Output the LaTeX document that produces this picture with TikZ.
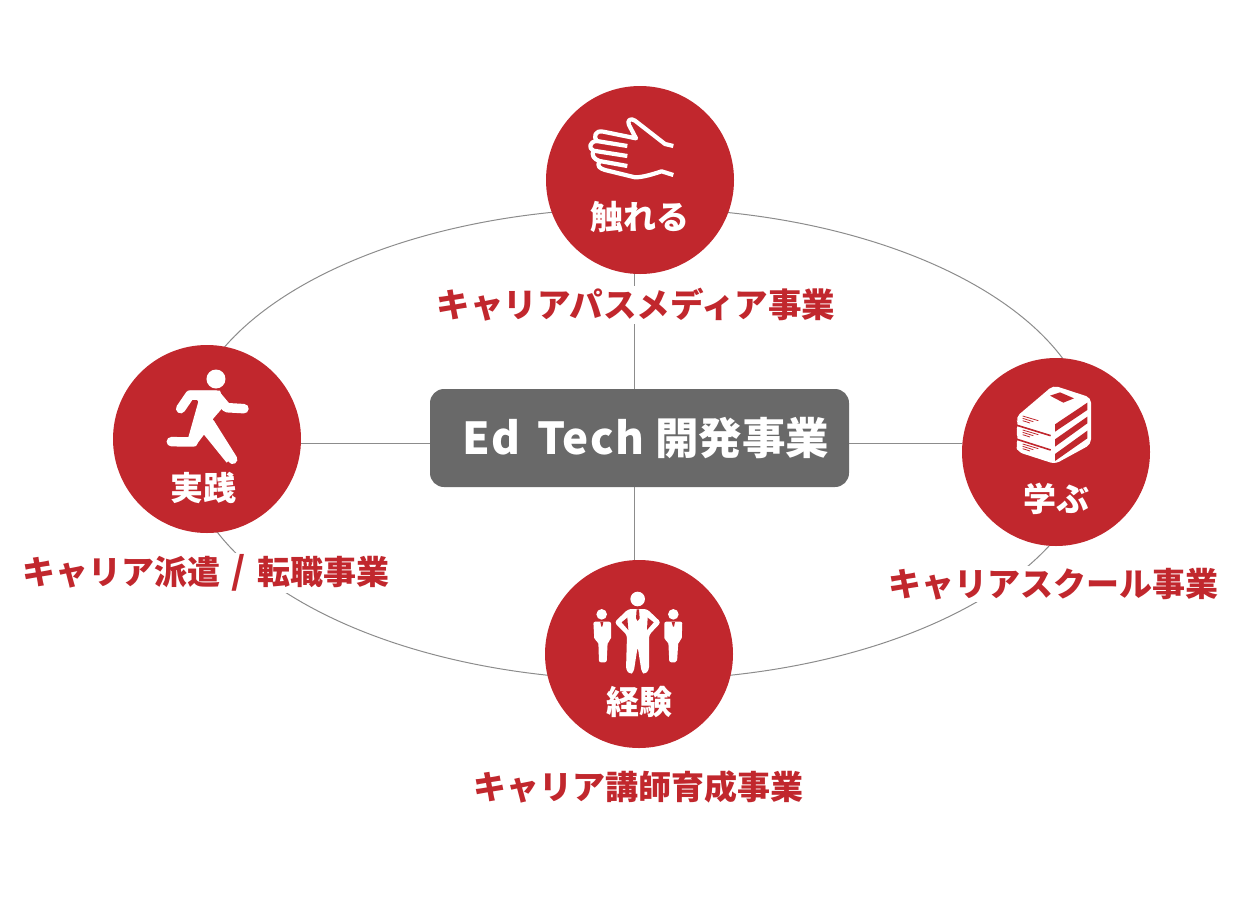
\documentclass[tikz,border=0pt]{standalone}
\usepackage{fontspec}
\setmainfont{Noto Sans CJK JP}
\usetikzlibrary{shapes.geometric,backgrounds}
\definecolor{brandred}{HTML}{C1272D}
\definecolor{hubgray}{HTML}{696969}
\definecolor{linegray}{HTML}{8C8C8C}
\tikzset{
  stage/.style={circle,fill=brandred,minimum size=188pt,inner sep=0pt},
  stagetext/.style={text=white,font=\bfseries\fontsize{33}{36}\selectfont,inner sep=0pt},
  biz/.style={text=brandred,fill=white,font=\bfseries\fontsize{33}{38}\selectfont,inner xsep=1pt,inner ysep=2pt},
  hubbox/.style={rectangle,rounded corners=14pt,fill=hubgray,text=white,minimum width=419pt,minimum height=98pt,inner sep=0pt,font=\bfseries\fontsize{44}{48}\selectfont},
  ringline/.style={ellipse,draw=linegray,line width=1pt,minimum width=909pt,minimum height=472pt,inner sep=0pt},
  spoke/.style={draw=linegray,line width=1pt},
  icon/.style={x=0.3333pt,y=-0.3333pt},
  limb/.style={draw=white,line width=9.5pt,line cap=round,line join=round},
  handline/.style={draw=white,line width=4.2pt,line join=round}
}
\begin{document}
\begin{tikzpicture}[x=1pt,y=-1pt]
\useasboundingbox (0,0) rectangle (1260,900);
\node[stage] (touch) at (640,180) {};
\node[stage] (practice) at (207,439) {};
\node[stage] (learn) at (1056,452) {};
\node[stage] (exper) at (639,654) {};
\node[hubbox] (hub) at (639.5,438) {\hspace*{13pt}{\addfontfeature{LetterSpace=3.2}Ed}\hspace{17pt}{\addfontfeature{LetterSpace=3.2}Tech}\hspace{11pt}{\fontsize{43.5}{48}\selectfont 開発事業}};
\coordinate (vx) at (634,443);
\coordinate (hy) at (640,443);
\begin{pgfonlayer}{background}
\node[ringline] (ring) at (639,444) {};
\draw[spoke] (touch.south -| vx) -- (hub.north -| vx);
\draw[spoke] (hub.south -| vx) -- (exper.north -| vx);
\draw[spoke] (practice.east |- hy) -- (hub.west |- hy);
\draw[spoke] (hub.east |- hy) -- (learn.west |- hy);
\end{pgfonlayer}
\node[stagetext] (ttouch) at (640,217) {触れる};
\node[stagetext] (tpractice) at (203.5,488) {実践};
\node[stagetext] (tlearn) at (1056,499) {学ぶ};
\node[stagetext] (texper) at (639,702) {経験};
\node[biz,font=\bfseries\fontsize{33.5}{38}\selectfont] (b1) at (636,305) {キャリアパスメディア事業};
\node[biz] (b2) at (206,573) {キャリア派遣\hspace{11pt}{\fontsize{37}{38}\selectfont /}\hspace{12pt}転職事業};
\node[biz] (b3) at (1053,584) {キャリアスクール事業};
\node[biz] (b4) at (638.5,787) {キャリア講師育成事業};
% hand
\begin{scope}[shift={(540,80)},icon]
\draw[handline] (400,198) -- (375,192) -- (285,122) .. controls (272,112) and (260,122) .. (267,135) -- (288,175) -- (190,155) .. controls (165,150) and (160,170) .. (170,183) -- (262,198);
\draw[handline] (170,183) .. controls (148,185) and (145,205) .. (160,212) -- (262,228);
\draw[handline] (160,212) .. controls (155,225) and (160,237) .. (178,243) -- (262,258);
\draw[handline] (178,243) .. controls (170,260) and (180,265) .. (195,270) -- (285,292) .. controls (310,292) and (340,282) .. (365,274) -- (400,285);
\end{scope}
% runner
\begin{scope}[shift={(110,340)},icon]
\fill[white] (318,117) circle[radius=9.5pt];
\draw[limb] (212,206) -- (240,165) -- (318,165) -- (350,203) -- (402,206);
\fill[white] (240,152) -- (330,152) -- (345,195) -- (308,238) -- (372,345) -- (350,368) -- (282,284) -- (255,320) -- (235,292) -- (265,185) -- cycle;
\draw[limb] (250,306) -- (184,305);
\draw[limb] (300,250) -- (368,358);
\end{scope}
% books
\begin{scope}[shift={(1010,380)},icon]
\fill[white,rounded corners=5pt] (130,16) -- (243,53) -- (243,193) -- (135,252) -- (24,216) -- (17,196) -- (26,176) -- (17,154) -- (26,134) -- (17,112) -- cycle;
\fill[brandred] (135,133) -- (232,68) -- (232,90) -- (135,155) -- cycle;
\fill[brandred] (135,178) -- (232,110) -- (232,130) -- (135,200) -- cycle;
\fill[brandred] (135,222) -- (232,152) -- (232,175) -- (135,243) -- cycle;
\fill[brandred] (120,47) -- (150,37) -- (192,55) -- (160,68) -- cycle;
\draw[brandred,line width=1.6pt] (18,135) -- (122,167) (18,177) -- (122,210);
\draw[brandred,line width=0.8pt] (38,108) -- (85,122) (38,115) -- (70,125) (38,122) -- (60,129)
  (38,150) -- (85,164) (38,157) -- (70,167) (38,164) -- (60,171)
  (38,192) -- (85,206) (38,199) -- (70,209) (38,206) -- (60,213);
\end{scope}
% people
\begin{scope}[shift={(585,585)},icon]
\fill[white] (158,42) circle[radius=7.3pt];
\fill[white,rounded corners=3pt] (130,72) -- (186,72) -- (228,112) -- (192,150) -- (192,255) -- (180,268) -- (170,262) -- (158,185) -- (146,262) -- (135,268) -- (123,255) -- (126,150) -- (88,112) -- cycle;
\fill[brandred] (110,112) -- (127,98) -- (130,135) -- cycle;
\fill[brandred] (206,112) -- (188,98) -- (186,135) -- cycle;
\fill[brandred] (155,73) -- (162,73) -- (164,100) -- (158,108) -- (153,100) -- cycle;
\fill[white] (50,88) circle[radius=5.3pt];
\fill[white] (265,88) circle[radius=5.3pt];
\fill[white,rounded corners=2pt] (25,110) -- (78,110) -- (78,165) -- (68,170) -- (65,232) -- (42,232) -- (40,170) -- (28,165) -- cycle;
\fill[white,rounded corners=2pt] (238,110) -- (292,110) -- (290,165) -- (280,170) -- (276,232) -- (253,232) -- (250,170) -- (238,165) -- cycle;
\fill[brandred] (46,111) -- (55,111) -- (52,125) -- (49,125) -- cycle;
\fill[brandred] (260,111) -- (270,111) -- (267,125) -- (264,125) -- cycle;
\end{scope}
\end{tikzpicture}
\end{document}
